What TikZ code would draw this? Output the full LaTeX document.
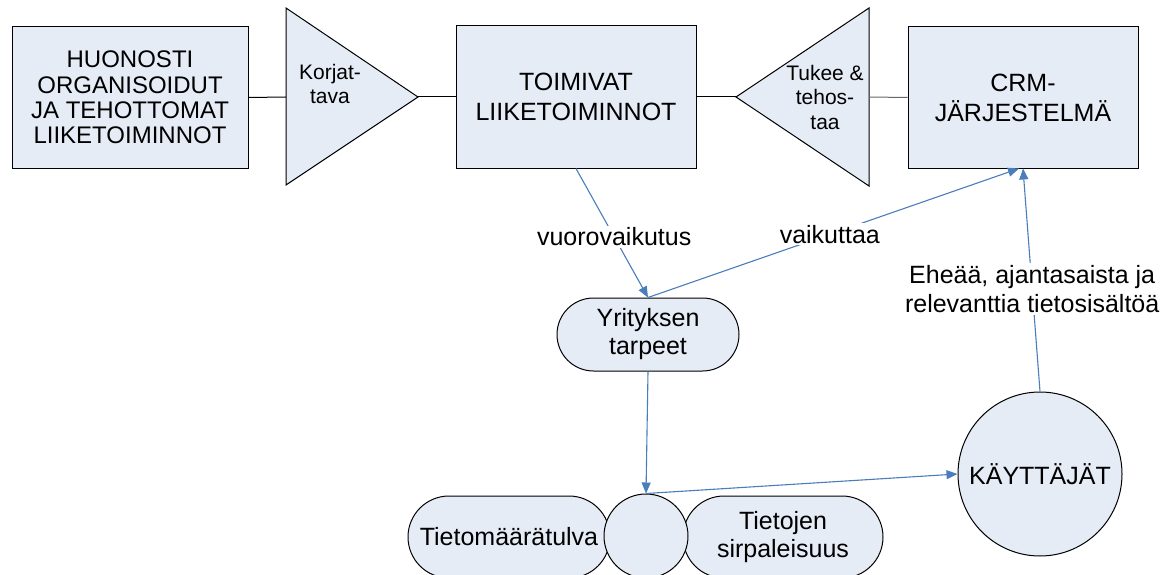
\documentclass[tikz,border=0pt]{standalone}
\usepackage{fontspec}
\setmainfont{Liberation Sans}
\usetikzlibrary{arrows.meta, shapes.misc}

\definecolor{boxfill}{RGB}{230,236,246}
\definecolor{arrblue}{RGB}{74,126,187}

\begin{document}
\begin{tikzpicture}[>={Triangle[length=11pt,width=9pt]}, x=1pt, y=-1pt,
  box/.style={draw, fill=boxfill, line width=1pt, align=center, inner sep=0pt, font=\fontsize{25}{30}\selectfont},
  pill/.style={rounded rectangle, draw, fill=boxfill, line width=1pt, align=center, inner sep=0pt, font=\fontsize{25}{28}\selectfont},
  tri/.style={draw, fill=boxfill, line width=1pt},
  tritext/.style={align=center, inner sep=0pt, font=\fontsize{21}{24.5}\selectfont},
  link/.style={line width=1pt},
  flow/.style={arrblue, line width=1.1pt, ->},
  lbl/.style={fill=white, inner sep=2pt, text=black, align=center, font=\fontsize{25}{29}\selectfont}]

\useasboundingbox[fill=white] (0,0) rectangle (1175,575);
\clip (0,0) rectangle (1175,575);

% top row
\node[box, minimum width=236pt, minimum height=141pt, font=\fontsize{24}{25.3}\selectfont] (huono) at (130,97.5)
  {HUONOSTI\\ORGANISOIDUT\\JA TEHOTTOMAT\\LIIKETOIMINNOT};
\node[box, minimum width=240pt, minimum height=142pt] (toim) at (576,97) {TOIMIVAT\\LIIKETOIMINNOT};
\node[box, minimum width=230pt, minimum height=141pt] (crm) at (1023,97.5) {CRM-\\JÄRJESTELMÄ};

\draw[tri] (286,8) -- (418,97) -- (286,185) -- cycle;
\coordinate (korjbase) at (286,97);
\coordinate (korjapex) at (418,97);
\node[tritext] (korj) at (330,84) {Korjat-\\tava};

\draw[tri] (869,8) -- (736,97) -- (869,186) -- cycle;
\coordinate (tukapex) at (736,97);
\coordinate (tukbase) at (869,97);
\node[tritext] (tuk) at (825,97) {Tukee \&\\tehos-\\taa};

\draw[link] (huono.east) -- (korjbase);
\draw[link] (korjapex) -- (toim.west);
\draw[link] (toim.east) -- (tukapex);
\draw[link, black!60] (tukbase) -- (crm.west);

% needs and users
\node[pill, minimum width=182pt, minimum height=73pt] (yrit) at (648,334.5) {Yrityksen\\tarpeet};

\node[pill, minimum width=202pt, minimum height=82pt] (tulva) at (509,537) {Tietomäärätulva};
\node[pill, minimum width=200pt, minimum height=82pt] (sirp) at (783,537) {Tietojen\\sirpaleisuus};
\node[circle, draw, fill=boxfill, line width=1pt, minimum size=84pt, inner sep=0pt] (mid) at (646,536) {};

\node[circle, draw, fill=boxfill, line width=1pt, minimum size=164pt, inner sep=0pt,
  font=\fontsize{25}{29}\selectfont] (kayt) at (1040,474) {KÄYTTÄJÄT};

% arrows
\draw[flow] (toim.south) -- (yrit.north) node[lbl, pos=.53] (vuoro) {vuorovaikutus};
\draw[flow] (yrit.north) -- ([xshift=-4pt]crm.south) node[lbl, pos=.49] (vaik) {vaikuttaa};
\draw[flow] (yrit.south) -- (mid.north);
\draw[flow] (mid.north) -- (kayt.west);
\draw[flow] (kayt.north) -- (crm.south) node[lbl, pos=.46] (ehea) {Eheää, ajantasaista ja\\relevanttia tietosisältöä};

\end{tikzpicture}
\end{document}
